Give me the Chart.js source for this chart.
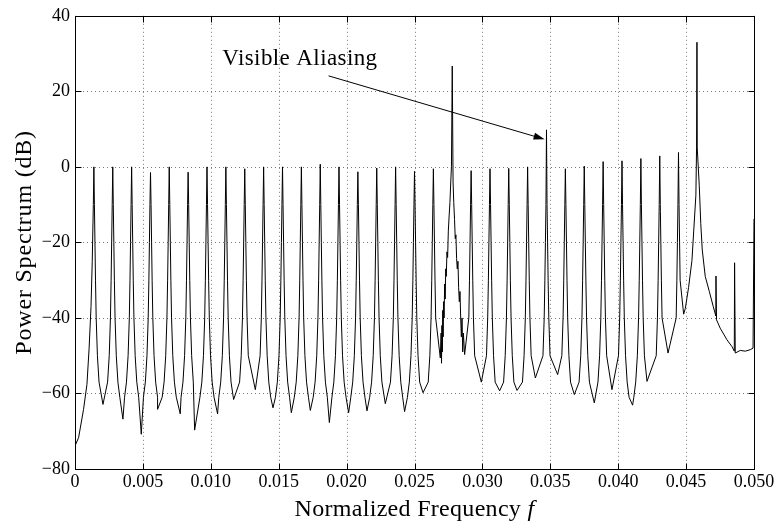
<!DOCTYPE html>
<html>
<head>
<meta charset="utf-8">
<script src="https://cdn.jsdelivr.net/npm/chart.js@4.4.0/dist/chart.umd.min.js"></script>
<style>
  html, body { margin: 0; padding: 0; background: #fff; }
</style>
</head>
<body>
<canvas id="spectrum" width="778" height="527"></canvas>
<script>
// line positions (normalized frequency) and their levels in dB
var peakFreq = [0.00139, 0.00278, 0.00417, 0.00556, 0.00694, 0.00833, 0.00972, 0.01111, 0.0125, 0.01389,
                0.01528, 0.01667, 0.01806, 0.01944, 0.02083, 0.02222, 0.02361, 0.025, 0.02639, 0.02778,
                0.02917, 0.03056, 0.03194, 0.03333, 0.03472, 0.03611, 0.0375, 0.03889, 0.04028, 0.04167,
                0.04306, 0.04444, 0.0458];
var peakDb = [0, 0, 0, -1.5, 0, -1.4, 0, 0, -0.5, 0,
              0, 0, 0.7, 0, -1.3, -0.3, 0, -1.2, -0.5, 26.7,
              -1, -0.5, -0.4, 0, 9.8, -0.5, 0.2, 1.4, 1.6, 2.2,
              2.9, 3.8, 33];

// valley bottoms between neighbouring lines
var troughFreq = [0.00206, 0.00353, 0.00488, 0.00608, 0.00775, 0.00881, 0.0105, 0.01168, 0.01328, 0.01458,
                  0.01593, 0.01733, 0.01873, 0.02015, 0.0215, 0.02285, 0.02427, 0.02563, 0.0269, 0.02869,
                  0.02992, 0.03127, 0.03255, 0.0339, 0.03554, 0.03677, 0.03824, 0.03954, 0.04106, 0.04212,
                  0.04367, 0.04482];
var troughDb = [-62.9, -66.8, -70.8, -64.2, -65.4, -69.7, -65.4, -61.6, -59, -63.8,
                -65.1, -64.5, -67.7, -65.1, -64.6, -62.7, -64.8, -59.8, -50.6, -49.7,
                -57, -59.3, -59.2, -55.9, -55, -60.3, -62.5, -59, -63.1, -56.8,
                -49.3, -39];

// flank of a typical line: level and distance from the line centre
var flankDb = [-10, -20, -30, -40, -50, -57, -61];
var flankOffset = [0.00004, 0.00008, 0.00012, 0.00017, 0.00026, 0.00038, 0.00052];

// from f = 0 up to the first line
var leadFreq = [0, 0.000265, 0.00063, 0.00088, 0.00104, 0.00118, 0.00127, 0.00135];
var leadDb = [-73.9, -71.7, -64.2, -57.6, -48, -37, -25, -10];

// wide, ragged skirts of the 27 dB line
var wideLeftFreq = [0.02696, 0.02699, 0.02702, 0.02705, 0.02708, 0.02711, 0.02714, 0.02718, 0.02722,
                    0.02726, 0.0273, 0.02734, 0.02739, 0.02744, 0.02749, 0.02755, 0.02761, 0.02767, 0.02772];
var wideLeftDb = [-44, -52, -42, -49, -38, -45, -35.7, -40, -31, -35, -27, -29, -22.5, -24, -17, -13, -9.4, -4, 0];
var wideRightFreq = [0.02784, 0.02789, 0.02795, 0.028, 0.02805, 0.0281, 0.02815, 0.0282, 0.02825,
                     0.0283, 0.02835, 0.0284, 0.02845, 0.0285, 0.02855, 0.0286];
var wideRightDb = [-4, -9.4, -14, -19, -18, -24.3, -27, -25, -32, -35.7, -33, -40, -45, -40, -49, -44];

// left skirt of the 33 dB line, then everything right of it
var bigLeftFreq = [0.04494, 0.04518, 0.04543, 0.04556, 0.04572, 0.04577];
var bigLeftDb = [-37.5, -32, -24.8, -17, -7.5, 5];
var tailFreq = [0.04582, 0.04597, 0.04608, 0.04619, 0.04641, 0.04671, 0.047, 0.04719, 0.0472, 0.04724,
                0.04751, 0.04801, 0.04838, 0.04855, 0.04857, 0.04862, 0.04899, 0.04936, 0.04973, 0.04993, 0.05];
var tailDb = [5, -5, -15, -22, -29, -33, -37, -39.5, -28.9, -40.5,
              -42.7, -45.8, -47.6, -48.8, -25.4, -49.3, -48.6, -48.8, -48.4, -48, -13.8];

var noteText = 'Visible Aliasing';
var noteAt = { x: 0.01085, y: 26.9 };
var arrowFrom = { x: 0.01867, y: 24.1 };
var arrowTo = { x: 0.03458, y: 7.3 };

var SERIF = '"Liberation Serif", "Times New Roman", serif';

function pushAll(pts, fs, ds) {
    for (var i = 0; i < fs.length; i++) pts.push({ x: fs[i], y: ds[i] });
}

var pts = [];
pushAll(pts, leadFreq, leadDb);
var last = peakFreq.length - 1;
for (var k = 0; k < peakFreq.length; k++) {
    var j;
    if (k === 19) {
        pushAll(pts, wideLeftFreq, wideLeftDb);
    } else if (k === last) {
        pushAll(pts, bigLeftFreq, bigLeftDb);
    } else if (k > 0) {
        for (j = flankDb.length - 1; j >= 0; j--) {
            var fl = peakFreq[k] - flankOffset[j];
            if (flankDb[j] > troughDb[k - 1] + 2 && flankDb[j] < peakDb[k] && fl > troughFreq[k - 1]) {
                pts.push({ x: fl, y: flankDb[j] });
            }
        }
    }
    pts.push({ x: peakFreq[k], y: peakDb[k] });
    if (k === 19) {
        pushAll(pts, wideRightFreq, wideRightDb);
    } else if (k === last) {
        pushAll(pts, tailFreq, tailDb);
    } else {
        for (j = 0; j < flankDb.length; j++) {
            var fr = peakFreq[k] + flankOffset[j];
            if (flankDb[j] > troughDb[k] + 2 && flankDb[j] < peakDb[k] && fr < troughFreq[k]) {
                pts.push({ x: fr, y: flankDb[j] });
            }
        }
    }
    if (k < troughFreq.length) pts.push({ x: troughFreq[k], y: troughDb[k] });
}

var framePlugin = {
    id: 'frame',
    beforeDatasetsDraw: function (chart) {
        var ctx = chart.ctx, a = chart.chartArea, xs = chart.scales.x, ys = chart.scales.y;
        ctx.save();
        ctx.strokeStyle = '#777';
        ctx.lineWidth = 1;
        ctx.setLineDash([1, 3]);
        xs.ticks.forEach(function (t) {
            var px = Math.round(xs.getPixelForValue(t.value)) + 0.5;
            ctx.beginPath(); ctx.moveTo(px, a.top); ctx.lineTo(px, a.bottom); ctx.stroke();
        });
        ys.ticks.forEach(function (t) {
            var py = Math.round(ys.getPixelForValue(t.value)) + 0.5;
            ctx.beginPath(); ctx.moveTo(a.left, py); ctx.lineTo(a.right, py); ctx.stroke();
        });
        ctx.restore();
    },
    afterDatasetsDraw: function (chart) {
        var ctx = chart.ctx, a = chart.chartArea, xs = chart.scales.x, ys = chart.scales.y;
        ctx.save();
        ctx.strokeStyle = '#000';
        ctx.fillStyle = '#000';
        ctx.lineWidth = 1;
        // box with inward ticks on all four sides
        var L = Math.round(a.left) + 0.5, R = Math.round(a.right) + 0.5;
        var T = Math.round(a.top) + 0.5, B = Math.round(a.bottom) + 0.5;
        ctx.strokeRect(L, T, R - L, B - T);
        ctx.beginPath();
        xs.ticks.forEach(function (t) {
            var px = Math.round(xs.getPixelForValue(t.value)) + 0.5;
            ctx.moveTo(px, B); ctx.lineTo(px, B - 6);
            ctx.moveTo(px, T); ctx.lineTo(px, T + 6);
        });
        ys.ticks.forEach(function (t) {
            var py = Math.round(ys.getPixelForValue(t.value)) + 0.5;
            ctx.moveTo(L, py); ctx.lineTo(L + 6, py);
            ctx.moveTo(R, py); ctx.lineTo(R - 6, py);
        });
        ctx.stroke();

        // annotation + arrow
        ctx.font = '23px ' + SERIF;
        ctx.letterSpacing = '0.4px';
        ctx.textBaseline = 'alphabetic';
        ctx.textAlign = 'left';
        ctx.fillText(noteText, xs.getPixelForValue(noteAt.x), ys.getPixelForValue(noteAt.y));
        var x0 = xs.getPixelForValue(arrowFrom.x), y0 = ys.getPixelForValue(arrowFrom.y);
        var x1 = xs.getPixelForValue(arrowTo.x), y1 = ys.getPixelForValue(arrowTo.y);
        var ang = Math.atan2(y1 - y0, x1 - x0);
        ctx.beginPath(); ctx.moveTo(x0, y0); ctx.lineTo(x1 - 8 * Math.cos(ang), y1 - 8 * Math.sin(ang)); ctx.stroke();
        ctx.beginPath();
        ctx.moveTo(x1, y1);
        ctx.lineTo(x1 - 11 * Math.cos(ang) + 3.5 * Math.sin(ang), y1 - 11 * Math.sin(ang) - 3.5 * Math.cos(ang));
        ctx.lineTo(x1 - 11 * Math.cos(ang) - 3.5 * Math.sin(ang), y1 - 11 * Math.sin(ang) + 3.5 * Math.cos(ang));
        ctx.closePath();
        ctx.fill();

        // axis titles
        var xt1 = 'Normalized Frequency ';
        ctx.letterSpacing = '0.3px';
        ctx.font = '24px ' + SERIF;
        var w1 = ctx.measureText(xt1).width;
        ctx.font = 'italic 24px ' + SERIF;
        var w2 = ctx.measureText('f').width;
        var sx = (a.left + a.right) / 2 - (w1 + w2) / 2;
        ctx.font = '24px ' + SERIF;
        ctx.fillText(xt1, sx, 516);
        ctx.font = 'italic 24px ' + SERIF;
        ctx.fillText('f', sx + w1, 516);

        ctx.letterSpacing = '0.8px';
        ctx.font = '24px ' + SERIF;
        ctx.translate(31, (a.top + a.bottom) / 2);
        ctx.rotate(-Math.PI / 2);
        ctx.textAlign = 'center';
        ctx.fillText('Power Spectrum (dB)', 0, 0);
        ctx.restore();
    }
};

new Chart(document.getElementById('spectrum'), {
    type: 'line',
    data: {
        datasets: [{
            data: pts,
            borderColor: '#000',
            borderWidth: 1,
            // a solid "dash" keeps Chart.js off its pixel-column fast path, so narrow peaks stay intact
            borderDash: [5000, 0],
            pointRadius: 0,
            tension: 0,
            fill: false
        }]
    },
    options: {
        responsive: false,
        animation: false,
        devicePixelRatio: 1,
        layout: { padding: { left: 0, right: 24, top: 12, bottom: 0 } },
        plugins: { legend: { display: false }, tooltip: { enabled: false } },
        scales: {
            x: {
                type: 'linear',
                min: 0,
                max: 0.05,
                afterFit: function (scale) { scale.height = 58; },
                grid: { display: false, drawTicks: false },
                border: { display: false },
                ticks: {
                    stepSize: 0.005,
                    padding: 2,
                    color: '#000',
                    maxRotation: 0,
                    font: { family: SERIF, size: 18 },
                    callback: function (v) { return v === 0 ? '0' : v.toFixed(3); }
                }
            },
            y: {
                min: -80,
                max: 40,
                afterFit: function (scale) { scale.width = 75; },
                grid: { display: false, drawTicks: false },
                border: { display: false },
                ticks: {
                    stepSize: 20,
                    padding: 5,
                    color: '#000',
                    font: { family: SERIF, size: 18 },
                    callback: function (v) { return v < 0 ? '\u2212' + Math.abs(v) : String(v); }
                }
            }
        }
    },
    plugins: [framePlugin]
});
</script>
</body>
</html>
